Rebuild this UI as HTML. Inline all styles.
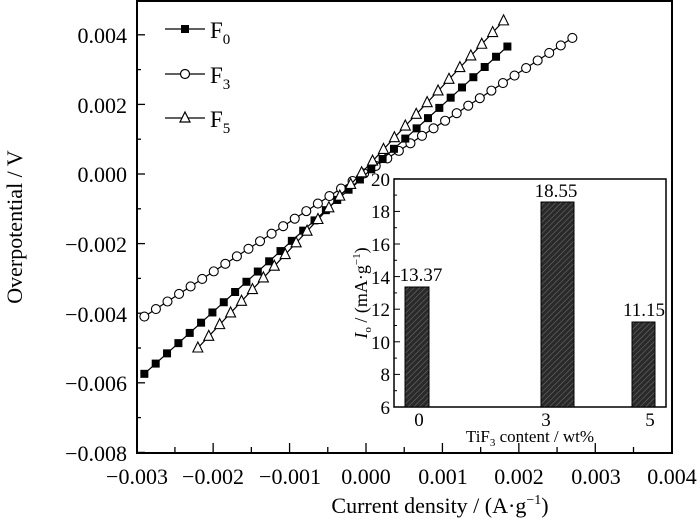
<!DOCTYPE html>
<html><head><style>body{margin:0;background:#fff}svg{display:block}text{font-family:"Liberation Serif",serif;fill:#000}</style></head>
<body>
<svg id="s" width="700" height="522" xmlns="http://www.w3.org/2000/svg">
<defs>
<pattern id="h" width="4" height="4" patternUnits="userSpaceOnUse" patternTransform="rotate(45)">
<rect width="4" height="4" fill="#2a2a2a"/><line x1="0" y1="0" x2="0" y2="4" stroke="#888" stroke-width="0.8"/>
</pattern>
</defs>
<g id="main"></g>
<rect x="137" y="1" width="535" height="452" fill="none" stroke="#000" stroke-width="2"/>
<g font-size="22" text-anchor="end">
<text x="127" y="43">0.004</text><text x="127" y="113">0.002</text><text x="127" y="182">0.000</text>
<text x="127" y="252">−0.002</text><text x="127" y="322">−0.004</text><text x="127" y="391">−0.006</text><text x="127" y="461">−0.008</text>
</g>
<g font-size="22" text-anchor="middle">
<text x="137" y="484">−0.003</text><text x="213" y="484">−0.002</text><text x="290" y="484">−0.001</text><text x="366" y="484">0.000</text>
<text x="443" y="484">0.001</text><text x="519" y="484">0.002</text><text x="596" y="484">0.003</text><text x="672" y="484">0.004</text>
<text x="440" y="513">Current density / (A·g<tspan font-size="14" dy="-9">−1</tspan><tspan dy="9">)</tspan></text>
<text transform="translate(22,227) rotate(-90)">Overpotential / V</text>
</g>
<g font-size="23">
<line x1="165" y1="29" x2="205" y2="29" stroke="#000" stroke-width="1.3"/><rect x="181" y="25" width="8" height="8"/>
<text x="210" y="38">F<tspan font-size="15" dy="6">0</tspan></text>
<line x1="165" y1="74" x2="205" y2="74" stroke="#000" stroke-width="1.3"/><circle cx="185" cy="74" r="4.5" fill="#fff" stroke="#000" stroke-width="1.2"/>
<text x="210" y="83">F<tspan font-size="15" dy="6">3</tspan></text>
<line x1="165" y1="118" x2="205" y2="118" stroke="#000" stroke-width="1.3"/><polygon points="185,112 190,122 180,122" fill="#fff" stroke="#000" stroke-width="1.2"/>
<text x="210" y="127">F<tspan font-size="15" dy="6">5</tspan></text>
</g>
<rect x="394" y="179" width="272" height="228" fill="#fff" stroke="#000" stroke-width="1.5"/>
<g id="inset"></g>
<rect x="405" y="287" width="24" height="120" fill="url(#h)" stroke="#000"/>
<rect x="541" y="202" width="33" height="205" fill="url(#h)" stroke="#000"/>
<rect x="632" y="322" width="23" height="85" fill="url(#h)" stroke="#000"/>
<g font-size="19" text-anchor="middle">
<text x="421" y="281">13.37</text><text x="556" y="197">18.55</text><text x="644" y="316">11.15</text>
<text x="419" y="426">0</text><text x="546" y="426">3</text><text x="650" y="426">5</text>
<text x="530" y="442" font-size="17">TiF<tspan font-size="11" dy="4">3</tspan><tspan dy="-4"> content / wt%</tspan></text>
<text transform="translate(367,293) rotate(-90)" font-size="18"><tspan font-style="italic">I</tspan><tspan font-size="11" dy="4">o</tspan><tspan dy="-4"> / (mA·g</tspan><tspan font-size="11" dy="-7">−1</tspan><tspan dy="7">)</tspan></text>
</g>
<g font-size="19" text-anchor="end">
<text x="390" y="414">6</text><text x="390" y="381">8</text><text x="390" y="349">10</text><text x="390" y="316">12</text>
<text x="390" y="284">14</text><text x="390" y="251">16</text><text x="390" y="218">18</text><text x="390" y="186">20</text>
</g>
</svg>
<script>
var ns="http://www.w3.org/2000/svg",m=document.getElementById("main"),ins=document.getElementById("inset");
function el(p,t,a){var e=document.createElementNS(ns,t);for(var k in a)e.setAttribute(k,a[k]);p.appendChild(e);return e;}
function X(v){return 366+v*76430;}function Y(v){return 174-v*34800;}
for(var i=0;i<=13;i++){var v=-0.008+i*0.001,y=Y(v);el(m,"line",{x1:137,x2:i%2==0?145:141,y1:y,y2:y,stroke:"#000","stroke-width":1.3});}
for(var i=0;i<=14;i++){var v=-0.003+i*0.0005,x=X(v);el(m,"line",{x1:x,x2:x,y1:453,y2:i%2==0?443:447,stroke:"#000","stroke-width":1.3});}
function series(a,b,x0,x1,n,type){var pts=[];for(var i=0;i<n;i++){var x=x0+(x1-x0)*i/(n-1);pts.push([X(x),Y(a*x+b)]);}
el(m,"polyline",{points:pts.map(p=>p.join(",")).join(" "),fill:"none",stroke:"#000","stroke-width":1.2});
pts.forEach(function(p){if(type==0)el(m,"rect",{x:p[0]-4,y:p[1]-4,width:8,height:8});
else if(type==1)el(m,"circle",{cx:p[0],cy:p[1],r:4.5,fill:"#fff",stroke:"#000","stroke-width":1.1});
else el(m,"polygon",{points:(p[0])+","+(p[1]-6)+" "+(p[0]+5)+","+(p[1]+4)+" "+(p[0]-5)+","+(p[1]+4),fill:"#fff",stroke:"#000","stroke-width":1.1});});}
series(1.43,0.00005,-0.0029,0.0027,38,1);
series(1.98,0.0,-0.0029,0.00185,33,0);
series(2.35,0.00017,-0.0022,0.0018,29,2);
for(var i=0;i<=14;i++){var y=407-i*16.3;el(ins,"line",{x1:394,x2:i%2==0?400:397,y1:y,y2:y,stroke:"#000","stroke-width":1});}
[419,546,650].forEach(function(x){el(ins,"line",{x1:x,x2:x,y1:407,y2:402,stroke:"#000","stroke-width":1});});
</script>
</body></html>
